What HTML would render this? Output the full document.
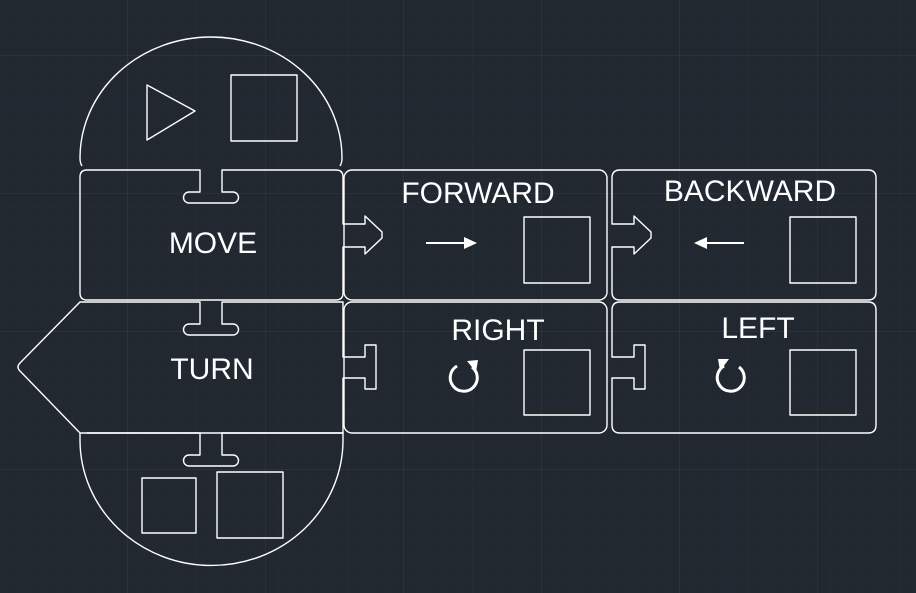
<!DOCTYPE html>
<html><head><meta charset="utf-8"><style>
html,body{margin:0;padding:0;background:#212830;}
svg{display:block}
text{font-family:"Liberation Sans",sans-serif;fill:#fff;}
</style></head><body>
<svg width="916" height="593" viewBox="0 0 916 593" xmlns="http://www.w3.org/2000/svg">
<defs>
<pattern id="minor" width="13.8" height="13.8" patternUnits="userSpaceOnUse" x="-11" y="55">
<path d="M0 0H13.8M0 0V13.8" stroke="#262d36" stroke-width="1" fill="none"/>
</pattern>
<pattern id="major" width="138" height="138" patternUnits="userSpaceOnUse" x="-11" y="55">
<path d="M0 0H138M0 0V138" stroke="#343c47" stroke-width="1" fill="none"/>
</pattern>
</defs>
<rect width="916" height="593" fill="#212830"/>
<rect width="916" height="593" fill="url(#minor)"/>
<rect width="916" height="593" fill="url(#major)"/>
<g fill="none" stroke="#fff" stroke-width="1.4" stroke-linejoin="round">
<path d="M82 166 Q80 163 80 158 A131 121 0 0 1 342 158 Q342 163 340 166"/>
<path d="M87 170 H200 V192 H189 A5.5 5.5 0 0 0 189 203 H233 A5.5 5.5 0 0 0 233 192 H222 V170 H336 Q343 170 343 177 V224 H365 V216 L382 232 V238 L365 254 V247 H343 V293 Q343 300 336 300 H87 Q80 300 80 293 V177 Q80 170 87 170 Z"/>
<path d="M87 302 H200 V324 H189 A5.5 5.5 0 0 0 189 335 H233 A5.5 5.5 0 0 0 233 324 H222 V302 H343 V357 H365 V345 H376 V389 H365 V378 H343 V433 H80 L20 371 Q16 367 20 363 L80 302 Z"/>
<path d="M87 433 H200 V455 H189 A5.5 5.5 0 0 0 189 466 H233 A5.5 5.5 0 0 0 233 455 H222 V433 H343 V440 A131 125 0 0 1 80 440 V433"/>
<rect x="344" y="170" width="263" height="130" rx="8"/>
<rect x="344" y="302" width="263" height="131" rx="8"/>
<path d="M620 170 H868 Q876 170 876 178 V292 Q876 300 868 300 H620 Q612 300 612 292 V247 H634 V254 L651 238 V232 L634 216 V224 H612 V178 Q612 170 620 170 Z"/>
<path d="M620 302 H868 Q876 302 876 310 V425 Q876 433 868 433 H620 Q612 433 612 425 V378 H634 V389 H645 V345 H634 V357 H612 V310 Q612 302 620 302 Z"/>
<rect x="231" y="75" width="66" height="66"/>
<path d="M147 85 L195 111 L147 140 Z"/>
<rect x="142" y="478" width="54" height="55"/>
<rect x="217" y="472" width="66" height="66"/>
<rect x="524" y="217" width="66" height="66"/>
<rect x="524" y="350" width="66" height="65"/>
<rect x="790" y="217" width="66" height="66"/>
<rect x="790" y="350" width="66" height="65"/>
</g>
<g stroke="#fff" stroke-width="2" fill="#fff">
<line x1="426" y1="243" x2="466" y2="243"/>
<path d="M464 237 L477 243 L464 249 Z" stroke="none"/>
<line x1="704" y1="243" x2="744" y2="243"/>
<path d="M707 237 L694 243 L707 249 Z" stroke="none"/>
</g>
<g fill="none" stroke="#fff" stroke-width="3">
<path d="M457 366 A13.5 13.5 0 1 0 472 367"/>
<path d="M739 367 A13.5 13.5 0 1 1 724 366"/>
</g>
<g fill="#fff">
<path d="M467 361 L478 360 L476 372 Z"/>
<path d="M729 359 L718 359 L720 371 Z"/>
</g>
<g font-size="30" text-anchor="middle">
<text x="213" y="253">MOVE</text>
<text x="212" y="379">TURN</text>
<text x="478" y="203">FORWARD</text>
<text x="750" y="201">BACKWARD</text>
<text x="498" y="340">RIGHT</text>
<text x="758" y="338">LEFT</text>
</g>
</svg>
</body></html>
